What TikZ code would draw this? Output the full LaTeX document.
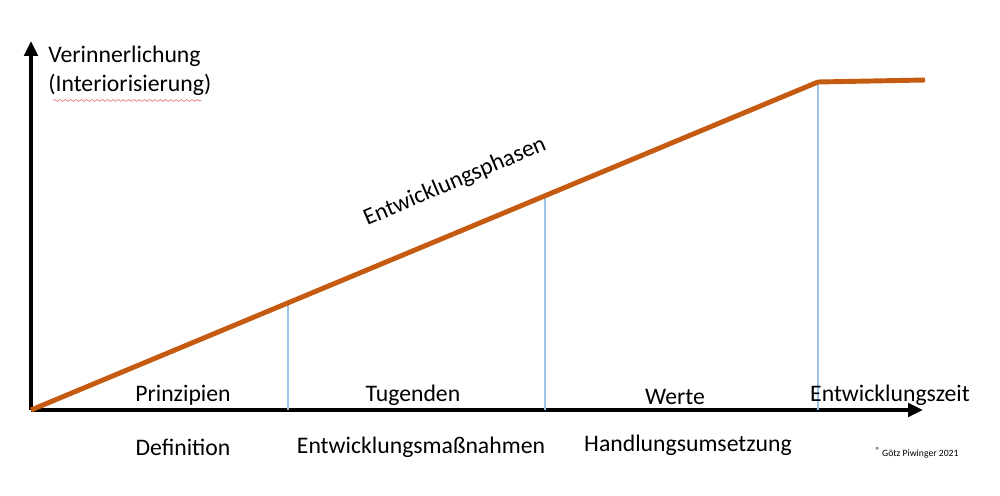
\documentclass[tikz,border=0pt]{standalone}
\usepackage{fontspec}
\setmainfont{Carlito}
\usepackage{tikz}
\usetikzlibrary{arrows.meta,positioning,decorations.pathmorphing}
\usepackage{xcolor}
\definecolor{phorange}{RGB}{197,90,17}
\definecolor{phblue}{RGB}{157,195,230}
\definecolor{phred}{RGB}{230,120,130}
\tikzstyle{axis} = [line width=2.3pt,-{Triangle[length=3mm,width=2.7mm]},black]
\tikzstyle{phase} = [line width=2.8pt,phorange,line join=round]
\tikzstyle{divider} = [line width=0.6pt,phblue]
\tikzstyle{lbl} = [inner sep=0pt,font=\fontsize{13.5}{16}\selectfont]

\begin{document}
\begin{tikzpicture}[x=0.2mm,y=-0.2mm]
\useasboundingbox (0,0) rectangle (1000,496);
% Axes
\coordinate (O) at (31,410);
\coordinate (ytip) at (31,41);
\coordinate (xtip) at (923,410);
\draw[axis] (O) -- (ytip);
\draw[axis] (O) -- (xtip);
% Phase line
\coordinate (p1) at (288,303);
\coordinate (p2) at (545,196);
\coordinate (top) at (818,82);
\coordinate (end) at (925,80);
\coordinate (p1b) at (288,410);
\coordinate (p2b) at (545,410);
\coordinate (topb) at (818,410);
\draw[divider] (p1) -- (p1b);
\draw[divider] (p2) -- (p2b);
\draw[divider] (top) -- (topb);
\draw[phase] (O) -- (top) -- (end);
% Axis labels
\node[lbl,anchor=west] (vin) at (48,56) {Verinnerlichung};
\node[lbl,anchor=west] (int) at (48,85) {(Interiorisierung)};
\draw[phred,line width=0.4pt,decorate,decoration={snake,amplitude=0.5pt,segment length=3pt}]
  ([xshift=3pt,yshift=-2.5pt]int.south west) -- ([xshift=-6pt,yshift=-2.5pt]int.south east);
\node[lbl] (zeit) at (890,395) {Entwicklungszeit};
\node[lbl,rotate=23] (phasen) at (455,182) {Entwicklungsphasen};
% Phases
\node[lbl] (prin) at (183,395) {Prinzipien};
\node[lbl] (tug) at (413,395) {Tugenden};
\node[lbl] (wer) at (675,397) {Werte};
\node[lbl] (def) at (183,447) {Definition};
\node[lbl] (mass) at (421,447) {Entwicklungsmaßnahmen};
\node[lbl] (hand) at (688,445) {Handlungsumsetzung};
% Copyright
\node[inner sep=0pt,font=\fontsize{5.5}{6}\selectfont] (copy) at (917,453) {\raisebox{1.5pt}{\fontsize{5}{6}\selectfont®} Götz Piwinger 2021};
\end{tikzpicture}
\end{document}
